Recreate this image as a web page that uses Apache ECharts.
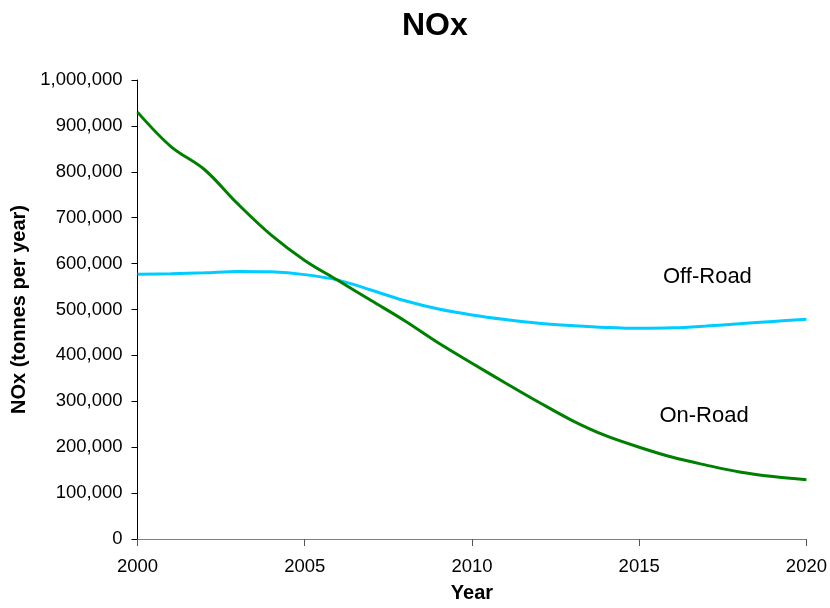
<!DOCTYPE html>
<html>
<head>
<meta charset="utf-8">
<script src="https://cdn.jsdelivr.net/npm/echarts@6/dist/echarts.min.js"></script>
<style>html,body{margin:0;padding:0;background:#fff}#c{width:830px;height:608px}</style>
</head>
<body>
<div id="c"></div>
<script>
var years = [2000,2001,2002,2003,2004,2005,2006,2007,2008,2009,2010,2011,2012,2013,2014,2015,2016,2017,2018,2019,2020];
var onRoad = [930000,855000,805000,730000,662000,607000,563000,519000,475000,427000,383000,340000,298000,258000,225000,200000,178000,161000,146000,136000,129000];
var offRoad = [577000,578000,580000,583000,582000,576000,564000,542000,519000,501000,488000,478000,470000,465000,461000,459000,460000,464000,469000,474000,479000];
var xTicks = [2000,2005,2010,2015,2020];
var seriesNames = ['On-Road','Off-Road'];

function pairs(vals){ return years.map(function(y,i){ return [y, vals[i]]; }); }
var FONT = '"Liberation Sans", Arial, sans-serif';

var chart = echarts.init(document.getElementById('c'), null, {renderer:'canvas'});
chart.setOption({
  animation:false,
  backgroundColor:'#fff',
  title:{text:'NOx', left:397, top:5, textStyle:{fontFamily:FONT, fontSize:32, fontWeight:'bold', color:'#000'}},
  grid:{left:137.5, right:20, top:80, bottom:63},
  xAxis:{
    type:'value', min:2000, max:2020, interval:5,
    name:'Year', nameLocation:'middle', nameGap:44,
    nameTextStyle:{fontFamily:FONT, fontSize:20, fontWeight:'bold', color:'#000'},
    axisLine:{show:true, lineStyle:{color:'#808080', width:1}},
    axisTick:{show:true, length:7, lineStyle:{color:'#555'}},
    axisLabel:{fontFamily:FONT, fontSize:18.5, color:'#000', margin:18,
      formatter:function(v){ return xTicks.indexOf(v) >= 0 ? String(v) : ''; }},
    splitLine:{show:false}
  },
  yAxis:{
    type:'value', min:0, max:1000000, interval:100000,
    name:'NOx (tonnes per year)', nameLocation:'middle', nameGap:100,
    nameTextStyle:{fontFamily:FONT, fontSize:20, fontWeight:'bold', color:'#000'},
    axisLine:{show:true, lineStyle:{color:'#000', width:1}},
    axisTick:{show:true, length:6, lineStyle:{color:'#000'}},
    axisLabel:{fontFamily:FONT, fontSize:18.5, color:'#000', margin:15,
      formatter:function(v){ return v.toLocaleString('en-US'); }},
    splitLine:{show:false}
  },
  series:[
    {
      name:seriesNames[0], type:'line', data:pairs(onRoad), smooth:0.35, showSymbol:false,
      lineStyle:{color:'#008000', width:3}, itemStyle:{color:'#008000'}, z:3,
      markPoint:{symbol:'circle', symbolSize:0, silent:true,
        data:[{coord:[2016.94, 269000], name:seriesNames[0]}],
        label:{show:true, position:'inside', formatter:'{b}', fontFamily:FONT, fontSize:22, color:'#000'}}
    },
    {
      name:seriesNames[1], type:'line', data:pairs(offRoad), smooth:0.35, showSymbol:false,
      lineStyle:{color:'#00CCFF', width:3}, itemStyle:{color:'#00CCFF'}, z:2,
      markPoint:{symbol:'circle', symbolSize:0, silent:true,
        data:[{coord:[2017.04, 572000], name:seriesNames[1]}],
        label:{show:true, position:'inside', formatter:'{b}', fontFamily:FONT, fontSize:22, color:'#000'}}
    }
  ]
});
</script>
</body>
</html>
